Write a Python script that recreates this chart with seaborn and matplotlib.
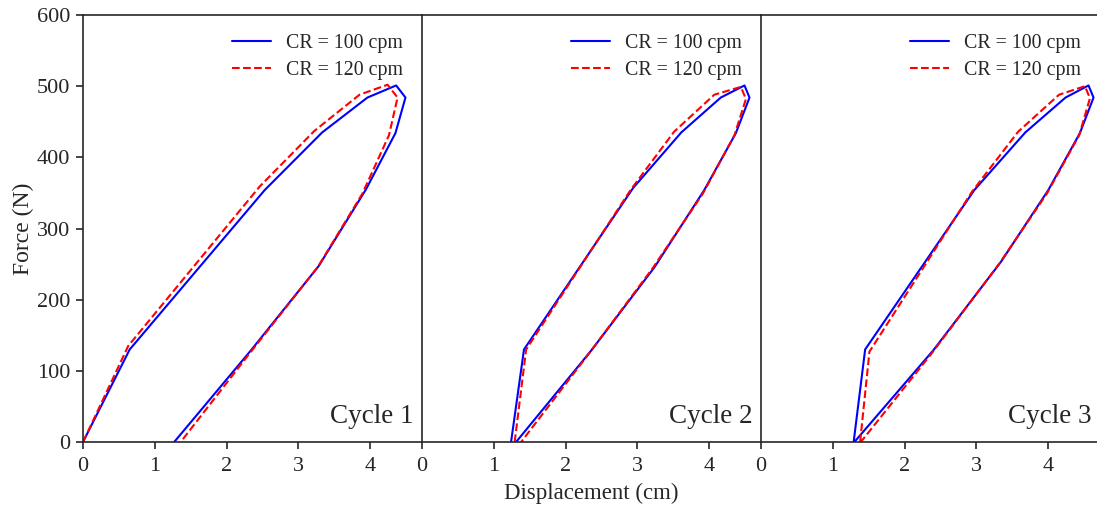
import numpy as np
import pandas as pd
import matplotlib
matplotlib.use("Agg")
import matplotlib.pyplot as plt
import seaborn as sns

sns.set_style("ticks")
plt.rcParams['font.family'] = ['Liberation Serif', 'DejaVu Serif']
plt.rcParams['mathtext.fontset'] = 'stix'

cycles = ["Cycle 1", "Cycle 2", "Cycle 3"]
series_names = ["CR = 100 cpm", "CR = 120 cpm"]

# Cycle 1
c1_100_x = [0.00, 0.65, 2.53, 3.33, 3.96, 4.36, 4.49, 4.35, 3.94, 3.28, 2.34, 1.27]
c1_100_y = [0, 130, 354, 435, 484, 501, 484, 434, 355, 247, 129, 0]
c1_120_x = [0.00, 0.63, 2.46, 3.22, 3.85, 4.24, 4.38, 4.26, 3.89, 3.27, 2.30, 1.36]
c1_120_y = [0, 135, 359, 437, 488, 502, 484, 431, 349, 246, 122, 0]
# Cycle 2
c2_100_x = [1.24, 1.42, 2.94, 3.61, 4.16, 4.49, 4.56, 4.37, 3.93, 3.24, 2.36, 1.31]
c2_100_y = [0, 130, 357, 435, 484, 501, 484, 434, 354, 246, 129, 0]
c2_120_x = [1.29, 1.45, 2.91, 3.51, 4.07, 4.44, 4.51, 4.35, 3.91, 3.21, 2.33, 1.38]
c2_120_y = [0, 130, 355, 436, 488, 499, 482, 431, 349, 244, 125, 0]
# Cycle 3
c3_100_x = [1.29, 1.45, 2.97, 3.68, 4.24, 4.56, 4.63, 4.44, 4.00, 3.34, 2.40, 1.30]
c3_100_y = [0, 130, 354, 435, 484, 501, 484, 434, 354, 253, 129, 0]
c3_120_x = [1.38, 1.51, 2.94, 3.58, 4.15, 4.51, 4.58, 4.43, 3.98, 3.32, 2.38, 1.39]
c3_120_y = [0, 127, 352, 436, 488, 500, 483, 431, 349, 251, 125, 0]

data = {
    "Cycle 1": [(c1_100_x, c1_100_y), (c1_120_x, c1_120_y)],
    "Cycle 2": [(c2_100_x, c2_100_y), (c2_120_x, c2_120_y)],
    "Cycle 3": [(c3_100_x, c3_100_y), (c3_120_x, c3_120_y)],
}

colors = ["#0000ff", "#ff0000"]
styles = ["-", "--"]

fig = plt.figure(figsize=(10.97, 5.08), dpi=100)
left, right, bottom, top = 83/1097, 1100/1097, 1 - 442/508, 1 - 15/508
w = (right - left) / 3
axes = []
for i, cyc in enumerate(cycles):
    ax = fig.add_axes([left + i * w, bottom, w, top - bottom])
    axes.append(ax)
    for j, (xs, ys) in enumerate(data[cyc]):
        df = pd.DataFrame({"x": xs, "y": ys})
        sns.lineplot(data=df, x="x", y="y", sort=False, estimator=None,
                     color=colors[j], linestyle=styles[j], linewidth=1.5,
                     label=series_names[j], ax=ax)
    ax.set_xlim(0, 4.72)
    ax.set_ylim(0, 600)
    ax.set_xticks([0, 1, 2, 3, 4])
    ax.set_xlabel("")
    ax.set_ylabel("")
    ax.spines['right'].set_visible(False)
    for s in ax.spines.values():
        s.set_linewidth(1.2)
    ax.tick_params(axis='both', labelsize=16, direction='out', length=5, width=1.2, pad=4)
    ax.tick_params(axis='x', pad=6)
    if i == 0:
        ax.set_yticks([0, 100, 200, 300, 400, 500, 600])
        ax.set_ylabel("Force (N)", fontsize=17, labelpad=2)
    else:
        ax.tick_params(axis='y', left=False, labelleft=False)
    ax.text(0.975, 0.03, cyc, transform=ax.transAxes, ha='right', va='bottom', fontsize=19.5)
    ax.legend(loc='upper right', frameon=False, fontsize=14.3, handlelength=2.0,
              handletextpad=0.75, borderaxespad=0.55, labelspacing=0.4)

axes[1].set_xlabel("Displacement (cm)", fontsize=16.5, labelpad=5)

fig.savefig("out.png", dpi=100)
